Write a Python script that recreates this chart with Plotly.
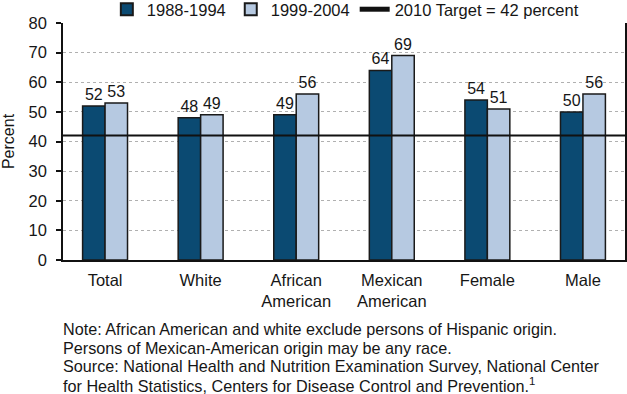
import plotly.graph_objects as go

categories = ["Total", "White", "African<br>American", "Mexican<br>American", "Female", "Male"]
series_1988 = [52, 48, 49, 64, 54, 50]
series_1999 = [53, 49, 56, 69, 51, 56]
target = 42
y_ticks = [0, 10, 20, 30, 40, 50, 60, 70, 80]
note_lines = [
    "Note: African American and white exclude persons of Hispanic origin.",
    "Persons of Mexican-American origin may be any race.",
    "Source: National Health and Nutrition Examination Survey, National Center",
    "for Health Statistics, Centers for Disease Control and Prevention.<sup>1</sup>",
]

FONT = "Liberation Sans, Arial, sans-serif"
TXT = "#161616"

fig = go.Figure()
fig.add_trace(go.Bar(
    x=categories, y=series_1988, name="1988-1994",
    marker=dict(color="#0b4a72", line=dict(color="#1a1a1a", width=1.5)),
    text=[str(v) for v in series_1988], textposition="outside",
    textfont=dict(size=16, color=TXT, family=FONT), cliponaxis=False,
))
fig.add_trace(go.Bar(
    x=categories, y=series_1999, name="1999-2004",
    marker=dict(color="#b6c9e1", line=dict(color="#1a1a1a", width=1.5)),
    text=[str(v) for v in series_1999], textposition="outside",
    textfont=dict(size=16, color=TXT, family=FONT), cliponaxis=False,
))
fig.add_shape(
    type="line", xref="paper", x0=0, x1=1.01, yref="y", y0=target, y1=target,
    line=dict(color="#111", width=2), showlegend=True,
    name="2010 Target = 42 percent", layer="above",
)

fig.update_layout(
    width=627, height=394,
    margin=dict(l=63, r=2, t=23, b=134, autoexpand=False),
    paper_bgcolor="white", plot_bgcolor="white",
    barmode="group", bargap=0.53, bargroupgap=0,
    font=dict(family=FONT, size=16, color=TXT),
    showlegend=True,
    legend=dict(orientation="h", x=0.078, xanchor="left", y=1.057, yanchor="middle",
                font=dict(size=16.5, family=FONT, color=TXT),
                itemsizing="constant", traceorder="normal",
                bgcolor="rgba(0,0,0,0)", itemwidth=30, tracegroupgap=0),
    xaxis=dict(
        range=[-0.44, 5.44],
        showline=True, linecolor="#111", linewidth=2,
        ticks="", tickfont=dict(size=16.5, color=TXT), ticklabelstandoff=4,
        showgrid=False,
    ),
    yaxis=dict(
        range=[0, 80], tickvals=y_ticks,
        showline=True, linecolor="#111", linewidth=1.5, mirror=True,
        ticks="outside", ticklen=5, tickcolor="#111", tickwidth=1.5,
        tickfont=dict(size=16.5, color=TXT), ticklabelstandoff=6,
        showgrid=True, gridcolor="#b0b0b0", griddash="dot", gridwidth=1,
        zeroline=False,
        title=dict(text="Percent", font=dict(size=16), standoff=15),
    ),
)

for i, line in enumerate(note_lines):
    fig.add_annotation(
        text=line, xref="paper", yref="paper", x=-0.004, y=-(69 + 18.5 * i) / 237,
        xanchor="left", yanchor="middle", align="left", showarrow=False,
        font=dict(size=16.2, family=FONT, color=TXT),
    )

# remove the default 8px page margin so the figure fills the window exactly
fig.write_html("out.html", config={"displayModeBar": False},
               post_script="document.body.style.margin='0';")
